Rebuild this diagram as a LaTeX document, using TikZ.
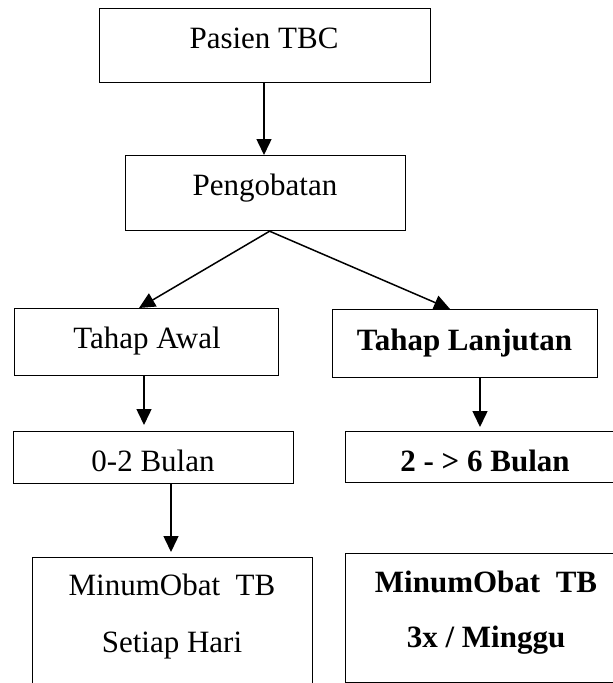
\documentclass[tikz,border=0pt]{standalone}
\usepackage{fontspec}
\setmainfont{Liberation Serif}
\usetikzlibrary{arrows.meta,calc}
\begin{document}
\begin{tikzpicture}[x=1pt,y=-1pt,
  box/.style={draw, line width=1.2pt, inner sep=0pt, anchor=north west},
  lbl/.style={anchor=base, inner sep=0pt, font=\fontsize{31}{37}\selectfont},
  blbl/.style={anchor=base, inner sep=0pt, font=\fontsize{31}{37}\selectfont\bfseries},
  arr/.style={line width=1.5pt, -{Triangle[length=16pt,width=15pt]}}]
\useasboundingbox (0,0) rectangle (613,683);
\clip (0,0) rectangle (613,683);
% boxes
\node[box, minimum width=331pt, minimum height=74pt] (p) at (99,8) {};
\node[box, minimum width=280pt, minimum height=75pt] (g) at (125,155) {};
\node[box, minimum width=264pt, minimum height=67pt] (ta) at (14,308) {};
\node[box, minimum width=265pt, minimum height=68pt] (tl) at (332,309) {};
\node[box, minimum width=280pt, minimum height=52pt] (b1) at (13,431) {};
\node[box, minimum width=280pt, minimum height=51pt] (b2) at (345,431) {};
\node[box, minimum width=280pt, minimum height=150pt] (m1) at (32,557) {};
\node[box, minimum width=280pt, minimum height=129pt] (m2) at (345,553) {};
% texts
\node[lbl] (tp) at (264,48) {Pasien TBC};
\node[lbl] (tg) at (265,195) {Pengobatan};
\node[lbl] (tta) at (147,348) {Tahap Awal};
\node[blbl] (ttl) at (464.5,350) {Tahap Lanjutan};
\node[lbl] (tb1) at (153,471.5) {0-2 Bulan};
\node[blbl] (tb2) at (485,471.5) {2 - > 6 Bulan};
\node[lbl] (tm1a) at (172,595) {MinumObat\ \ TB};
\node[lbl] (tm1b) at (172,652) {Setiap Hari};
\node[blbl] (tm2a) at (486,592) {MinumObat\ \ TB};
\node[blbl] (tm2b) at (486,647) {3x / Minggu};
% arrow guide coordinates
\coordinate (c0) at (264,0);
\coordinate (c1) at (139,0);
\coordinate (c2) at (450,0);
\coordinate (c3) at (144,0);
\coordinate (c4) at (480,0);
\coordinate (c5) at (171,0);
% connectors
\draw[arr] (p.south -| c0) -- (g.north -| c0);
\draw[arr] ($(g.south)+(4,0)$) -- (ta.north -| c1);
\draw[arr] ($(g.south)+(4,0)$) -- (tl.north -| c2);
\draw[arr] (ta.south -| c3) -- ($(b1.north -| c3)+(0,-6)$);
\draw[arr] (tl.south -| c4) -- ($(b2.north -| c4)+(0,-4)$);
\draw[arr] (b1.south -| c5) -- ($(m1.north -| c5)+(0,-5)$);
\end{tikzpicture}
\end{document}
